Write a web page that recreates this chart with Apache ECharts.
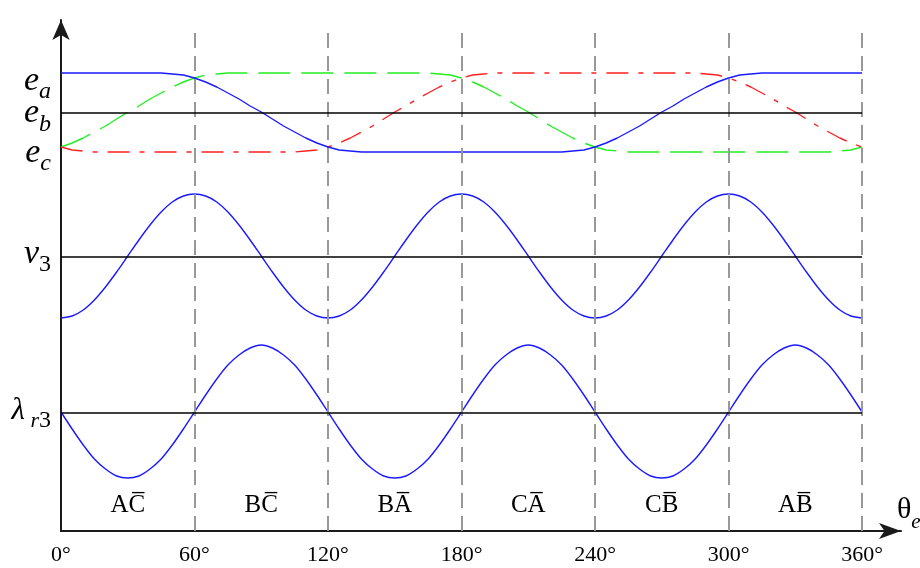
<!DOCTYPE html>
<html>
<head>
<meta charset="utf-8">
<script src="https://cdn.jsdelivr.net/npm/echarts@6/dist/echarts.min.js"></script>
<style>
html,body{margin:0;padding:0;background:#fff;}
#chart{width:920px;height:568px;}
</style>
</head>
<body>
<div id="chart"></div>
<script>
// ---- data (angle in degrees, values in chart units) ----
const theta = [0,5,10,15,20,25,30,35,40,45,50,55,60,65,70,75,80,85,90,95,100,105,110,115,120,125,130,135,140,145,150,155,160,165,170,175,180,185,190,195,200,205,210,215,220,225,230,235,240,245,250,255,260,265,270,275,280,285,290,295,300,305,310,315,320,325,330,335,340,345,350,355,360];

const eaValues = [45.8,45.8,45.8,45.8,45.8,45.8,45.8,45.8,45.8,45.8,
  45.7,45.6,45.3,44.9,44.4,43.8,43.2,42.5,41.9,41.2,40.5,39.9,39.3,38.8,38.4,38.1,38.0,37.9,
  37.9,37.9,37.9,37.9,37.9,37.9,37.9,37.9,37.9,37.9,37.9,37.9,37.9,37.9,37.9,37.9,37.9,37.9,
  38.0,38.1,38.4,38.8,39.3,39.9,40.5,41.2,41.9,42.5,43.2,43.8,44.4,44.9,45.3,45.6,45.7,45.8,
  45.8,45.8,45.8,45.8,45.8,45.8,45.8,45.8,45.8];

const ebValues = [38.4,38.8,39.3,39.9,40.5,41.2,41.9,42.5,43.2,43.8,44.4,44.9,45.3,45.6,45.7,45.8,
  45.8,45.8,45.8,45.8,45.8,45.8,45.8,45.8,45.8,45.8,45.8,45.8,45.8,45.8,45.8,45.8,45.8,45.8,
  45.7,45.6,45.3,44.9,44.4,43.8,43.2,42.5,41.9,41.2,40.5,39.9,39.3,38.8,38.4,38.1,38.0,37.9,
  37.9,37.9,37.9,37.9,37.9,37.9,37.9,37.9,37.9,37.9,37.9,37.9,37.9,37.9,37.9,37.9,37.9,37.9,
  38.0,38.1,38.4];

const ecValues = [38.4,38.1,38.0,37.9,
  37.9,37.9,37.9,37.9,37.9,37.9,37.9,37.9,37.9,37.9,37.9,37.9,37.9,37.9,37.9,37.9,37.9,37.9,
  38.0,38.1,38.4,38.8,39.3,39.9,40.5,41.2,41.9,42.5,43.2,43.8,44.4,44.9,45.3,45.6,45.7,45.8,
  45.8,45.8,45.8,45.8,45.8,45.8,45.8,45.8,45.8,45.8,45.8,45.8,45.8,45.8,45.8,45.8,45.8,45.8,
  45.7,45.6,45.3,44.9,44.4,43.8,43.2,42.5,41.9,41.2,40.5,39.9,39.3,38.8,38.4];

const v3Values = [21.3,21.5,22.1,23.1,24.4,25.9,27.5,29.1,30.6,31.9,32.9,33.5,33.7,33.5,32.9,31.9,30.6,29.1,27.5,25.9,24.4,23.1,22.1,21.5,
  21.3,21.5,22.1,23.1,24.4,25.9,27.5,29.1,30.6,31.9,32.9,33.5,33.7,33.5,32.9,31.9,30.6,29.1,27.5,25.9,24.4,23.1,22.1,21.5,
  21.3,21.5,22.1,23.1,24.4,25.9,27.5,29.1,30.6,31.9,32.9,33.5,33.7,33.5,32.9,31.9,30.6,29.1,27.5,25.9,24.4,23.1,22.1,21.5,
  21.3];

const lambdaValues = [11.9,10.2,8.6,7.2,6.2,5.5,5.3,5.5,6.2,7.2,8.6,10.2,11.9,13.6,15.2,16.6,17.6,18.3,18.6,18.3,17.6,16.6,15.2,13.6,
  11.9,10.2,8.6,7.2,6.2,5.5,5.3,5.5,6.2,7.2,8.6,10.2,11.9,13.6,15.2,16.6,17.6,18.3,18.6,18.3,17.6,16.6,15.2,13.6,
  11.9,10.2,8.6,7.2,6.2,5.5,5.3,5.5,6.2,7.2,8.6,10.2,11.9,13.6,15.2,16.6,17.6,18.3,18.6,18.3,17.6,16.6,15.2,13.6,
  11.9];

// reference (zero) levels of each group
const ebLevel = 41.8, v3Level = 27.4, lambdaLevel = 11.8;

// x tick labels
const xTicks = [0,60,120,180,240,300,360];
const sectorLines = [60,120,180,240,300,360];
const sectorCenters = [30,90,150,210,270,330];
const sectorLabels = ['AC\u0305','BC\u0305','BA\u0305','CA\u0305','CB\u0305','AB\u0305'];

// y labels (value on the y scale, rich text)
const yLabelValues = [45.0, 41.75, 37.8, 27.7, 12.0];
const yLabelTexts = ['{i|e}{s|a}','{i|e}{s|b}','{i|e}{s|c}','{i|v}{n|3}','{l|\u03bb}{r| r}{n|3}'];

const SERIF = '"Liberation Serif","Times New Roman",serif';

function pairs(vals){ return theta.map((t,i)=>[t, vals[i]]); }

const chart = echarts.init(document.getElementById('chart'), null, {renderer:'canvas'});

const axisColor = '#1a1a1a';

const option = {
  animation: false,
  backgroundColor: '#fff',
  grid: {left: 61, right: 19, top: 20, bottom: 37, containLabel: false, outerBoundsMode: 'none'},
  xAxis: {
    type: 'value', min: 0, max: 377.5, interval: 60,
    axisLine: {show: true, onZero: false, symbol: ['none','arrow'], symbolSize: [12, 22],
      lineStyle: {color: axisColor, width: 2}},
    axisTick: {show: true, inside: true, length: 5, customValues: sectorLines, lineStyle:{color: axisColor, width: 1.5}},
    axisLabel: {show: true, customValues: xTicks, margin: 13, hideOverlap: false,
      formatter: v => v + '\u00b0', fontFamily: SERIF, fontSize: 22, color: '#000'},
    splitLine: {show: false},
    name: '{t|\u03b8}{s|e}', nameLocation: 'end', nameGap: -4,
    nameTextStyle: {
      verticalAlign: 'bottom', align: 'left', padding: [0,0,6,0],
      rich: {
        t: {fontFamily: SERIF, fontSize: 30, color: '#000'},
        s: {fontFamily: SERIF, fontSize: 21, fontStyle: 'italic', color: '#000', verticalAlign: 'bottom', padding:[0,0,-8,0]}
      }
    }
  },
  yAxis: {
    type: 'value', min: 0, max: 51.1,
    axisLine: {show: true, onZero: false, symbol: ['none','arrow'], symbolSize: [13, 20],
      lineStyle: {color: axisColor, width: 2}},
    axisTick: {show: false},
    splitLine: {show: false},
    axisLabel: {show: false}
  },
  series: [
    {
      name: 'guides', type: 'line', data: [], silent: true, z: 1,
      markLine: {
        silent: true, symbol: ['none','none'], label: {show: false},
        lineStyle: {color: '#999', width: 2, type: [15, 8]},
        data: sectorLines.map(x => [{coord: [x, 0]}, {coord: [x, 49.8]}])
      }
    },
    {
      name: 'levels', type: 'line', data: [], silent: true, z: 2,
      markLine: {
        silent: true, symbol: ['none','none'], label: {show: false},
        lineStyle: {color: '#000', width: 1.5, type: 'solid'},
        data: [ebLevel, v3Level, lambdaLevel].map(y => [{coord: [0, y]}, {coord: [360, y]}])
      }
    },
    {name: 'eb', type: 'line', data: pairs(ebValues), showSymbol: false, z: 3,
      lineStyle: {color: '#22ee22', width: 1.4, type: [32, 11]}},
    {name: 'ec', type: 'line', data: pairs(ecValues), showSymbol: false, z: 3,
      lineStyle: {color: '#ff2020', width: 1.4, type: [22, 10, 5, 10]}},
    {name: 'ea', type: 'line', data: pairs(eaValues), showSymbol: false, z: 4,
      lineStyle: {color: '#1a1aff', width: 1.4}},
    {name: 'v3', type: 'line', data: pairs(v3Values), showSymbol: false, z: 4, smooth: 0.3,
      lineStyle: {color: '#1a1aff', width: 1.4}},
    {name: 'lambda', type: 'line', data: pairs(lambdaValues), showSymbol: false, z: 4, smooth: 0.3,
      lineStyle: {color: '#1a1aff', width: 1.4}},
    {
      name: 'sectors', type: 'scatter', silent: true, z: 5,
      symbolSize: 0, itemStyle: {color: '#000', opacity: 1},
      data: sectorCenters.map((x,i) => ({value: [x, 2.6], name: sectorLabels[i]})),
      label: {show: true, position: [0, 0], align: 'center', verticalAlign: 'middle', formatter: p => p.name,
        fontFamily: SERIF, fontSize: 25, color: '#000', opacity: 1, textBorderWidth: 0}
    },
    {
      name: 'ylabels', type: 'scatter', silent: true, z: 5, clip: false,
      symbolSize: 0, itemStyle: {color: '#000', opacity: 1},
      data: yLabelValues.map((y,i) => ({value: [0, y], name: yLabelTexts[i]})),
      label: {
        show: true, position: 'left', distance: 10, formatter: p => p.name,
        color: '#000', textBorderWidth: 0,
        rich: {
          i: {fontFamily: SERIF, fontSize: 34, fontStyle: 'italic', color: '#000'},
          s: {fontFamily: SERIF, fontSize: 24, fontStyle: 'italic', color: '#000', verticalAlign:'bottom', padding:[0,0,-6,0]},
          n: {fontFamily: SERIF, fontSize: 24, color: '#000', verticalAlign:'bottom', padding:[0,0,-6,0]},
          l: {fontFamily: SERIF, fontSize: 31, fontStyle: 'italic', color: '#000'},
          r: {fontFamily: SERIF, fontSize: 22, fontStyle: 'italic', color: '#000', verticalAlign:'bottom', padding:[0,0,-6,0]}
        }
      }
    }
  ]
};
chart.setOption(option);
</script>
</body>
</html>
